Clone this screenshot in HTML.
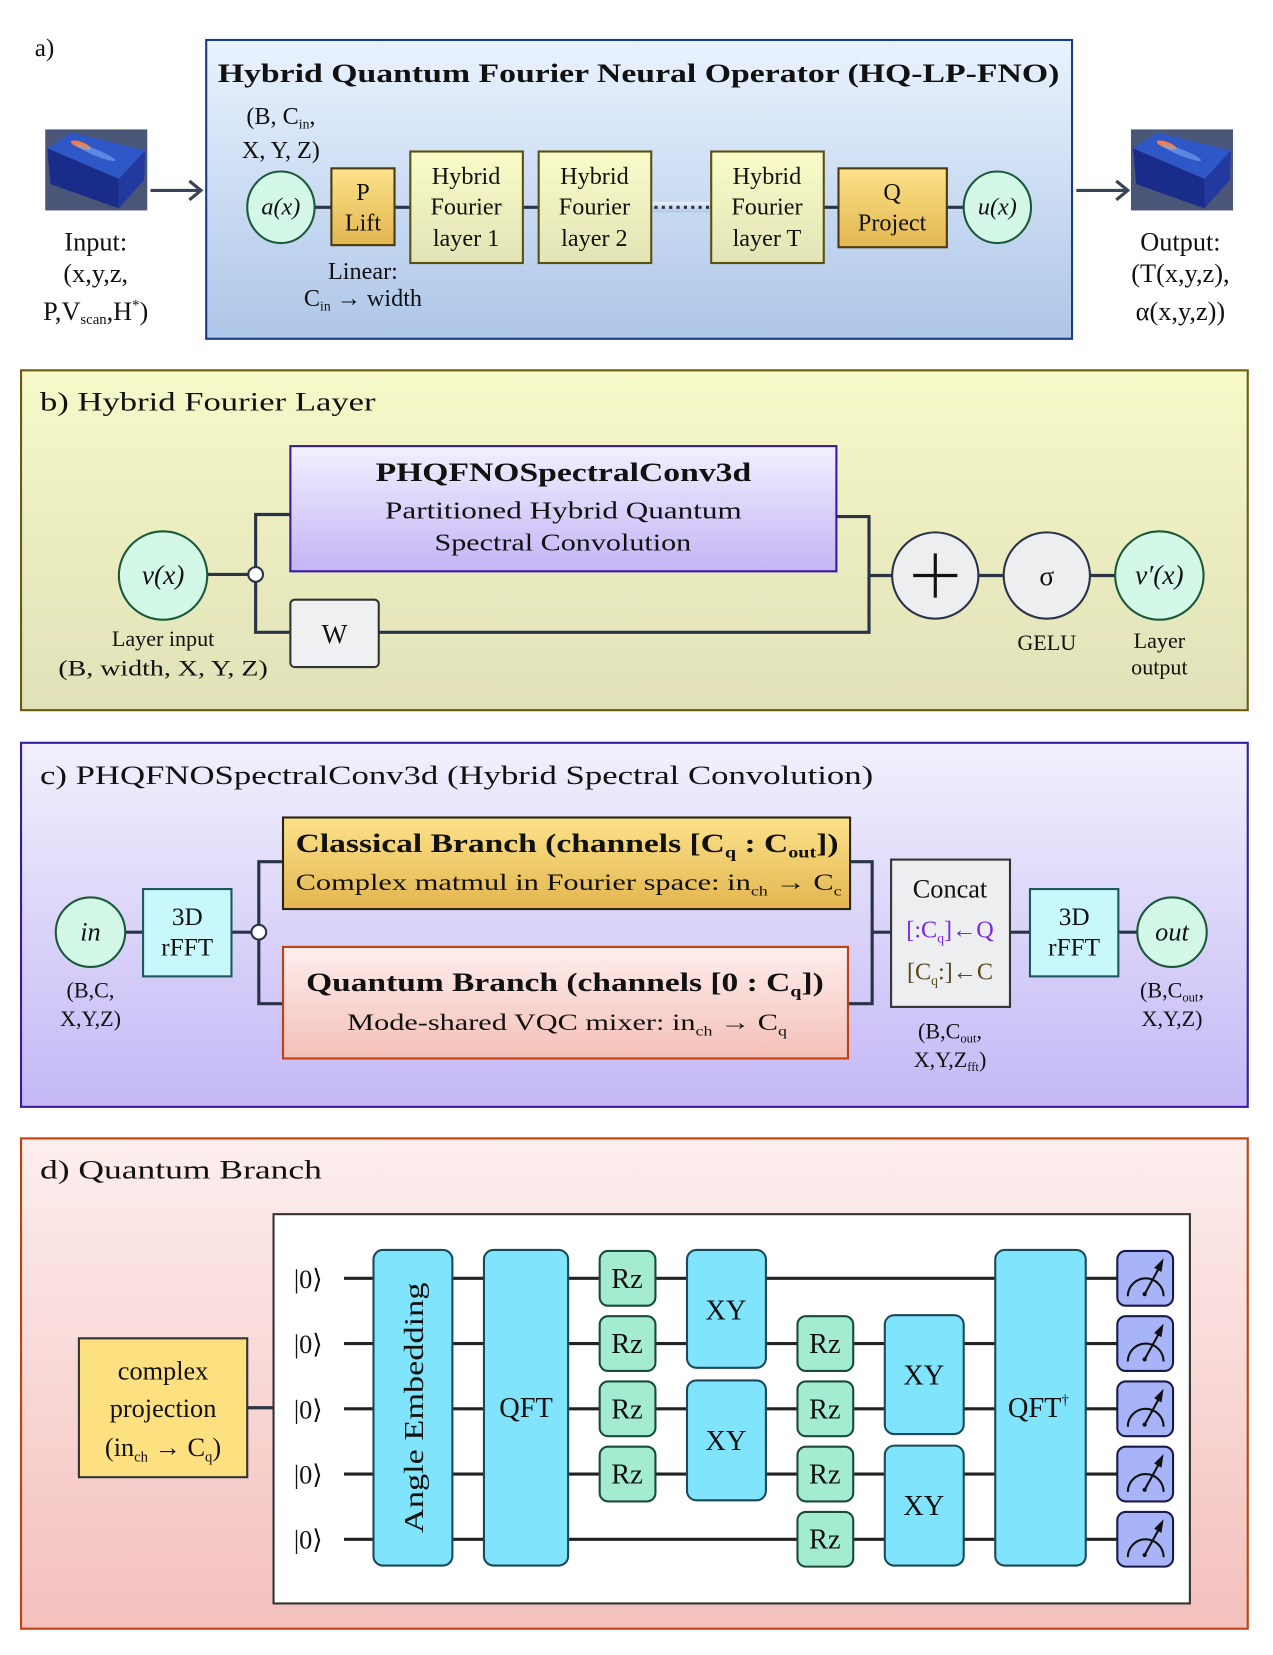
<!DOCTYPE html>
<html><head><meta charset="utf-8"><style>
html,body{margin:0;padding:0;background:#fff}
svg{display:block}
text{font-family:"Liberation Serif",serif;fill:#111}
</style></head><body>
<svg width="1273" height="1655" viewBox="0 0 1210 1573" preserveAspectRatio="none" xmlns="http://www.w3.org/2000/svg">
<defs>
<linearGradient id="gA" x1="0" y1="0" x2="0" y2="1"><stop offset="0" stop-color="#eaf3fe"/><stop offset="1" stop-color="#aec6e8"/></linearGradient>
<linearGradient id="gB" x1="0" y1="0" x2="0" y2="1"><stop offset="0" stop-color="#f6f9c8"/><stop offset="1" stop-color="#e0e1b8"/></linearGradient>
<linearGradient id="gC" x1="0" y1="0" x2="0" y2="1"><stop offset="0" stop-color="#f2f0fc"/><stop offset="1" stop-color="#c4b8f6"/></linearGradient>
<linearGradient id="gD" x1="0" y1="0" x2="0" y2="1"><stop offset="0" stop-color="#fdeeee"/><stop offset="1" stop-color="#f4c0bc"/></linearGradient>
<linearGradient id="gGold" x1="0" y1="0" x2="0" y2="1"><stop offset="0" stop-color="#fde28a"/><stop offset="1" stop-color="#e2b650"/></linearGradient>
<linearGradient id="gY" x1="0" y1="0" x2="0" y2="1"><stop offset="0" stop-color="#f9fbc8"/><stop offset="1" stop-color="#e2e4b6"/></linearGradient>
<linearGradient id="gP" x1="0" y1="0" x2="0" y2="1"><stop offset="0" stop-color="#f2f0fe"/><stop offset="1" stop-color="#c4b4f6"/></linearGradient>
<linearGradient id="gR" x1="0" y1="0" x2="0" y2="1"><stop offset="0" stop-color="#feeeec"/><stop offset="1" stop-color="#f4c0b8"/></linearGradient>
<g id="cube">
<rect x="0" y="0" width="97" height="77" fill="#4a5678"/>
<polygon points="2,18 25,3 95,20 70,47" fill="#2e58c8"/>
<polygon points="2,18 70,47 70,75 5,52" fill="#1a2c8a"/>
<polygon points="70,47 95,20 94,48 70,75" fill="#223aa0"/>
<ellipse cx="34" cy="15" rx="10" ry="3" fill="#ff7a3a" transform="rotate(20 34 15)"/>
<ellipse cx="48" cy="22" rx="20" ry="3" fill="#7aa8f0" opacity="0.6" transform="rotate(22 48 22)"/>
</g>
</defs>

<!-- ===== a ===== -->
<text x="33" y="53" font-size="24">a)</text>
<rect x="196" y="38" width="823" height="284" fill="url(#gA)" stroke="#1a3a8a" stroke-width="2"/>
<text x="207" y="78" font-size="25" font-weight="bold" textLength="800" lengthAdjust="spacingAndGlyphs">Hybrid Quantum Fourier Neural Operator (HQ-LP-FNO)</text>
<use href="#cube" x="43" y="123"/>
<use href="#cube" x="1075" y="123"/>
<g stroke="#3a4458" stroke-width="3" fill="none">
<line x1="143" y1="181" x2="190" y2="181"/><polyline points="180,172 191,181 180,190"/>
<line x1="1023" y1="181" x2="1070" y2="181"/><polyline points="1061,172 1072,181 1061,190"/>
</g>
<g font-size="25" text-anchor="middle">
<text x="91" y="238">Input:</text><text x="91" y="268">(x,y,z,</text>
<text x="91" y="304">P,V<tspan font-size="14" dy="4">scan</tspan><tspan dy="-4">,H</tspan><tspan font-size="14" dy="-10">*</tspan><tspan dy="10">)</tspan></text>
<text x="1122" y="238">Output:</text><text x="1122" y="268">(T(x,y,z),</text><text x="1122" y="304">α(x,y,z))</text>
</g>
<g stroke="#2a3448" stroke-width="3"><line x1="299" y1="197" x2="797" y2="197"/><line x1="900" y1="197" x2="916" y2="197"/></g>
<rect x="620" y="192" width="55" height="10" fill="url(#gA)"/>
<line x1="622" y1="197" x2="675" y2="197" stroke="#2a3448" stroke-width="3" stroke-dasharray="3,4"/>
<g font-size="23" text-anchor="middle">
<text x="267" y="118">(B, C<tspan font-size="13" dy="4">in</tspan><tspan dy="-4">,</tspan></text>
<text x="267" y="150">X, Y, Z)</text>
<ellipse cx="267" cy="197" rx="32" ry="34" fill="#d4f8e8" stroke="#1a5a3a" stroke-width="2"/>
<text x="267" y="204" font-style="italic">a(x)</text>
<rect x="315" y="160" width="60" height="73" fill="url(#gGold)" stroke="#4a3a10" stroke-width="2"/>
<text x="345" y="190">P</text><text x="345" y="219">Lift</text>
<rect x="390" y="144" width="107" height="106" fill="url(#gY)" stroke="#5a5010" stroke-width="2"/>
<text x="443" y="175">Hybrid</text><text x="443" y="204">Fourier</text><text x="443" y="234">layer 1</text>
<rect x="512" y="144" width="107" height="106" fill="url(#gY)" stroke="#5a5010" stroke-width="2"/>
<text x="565" y="175">Hybrid</text><text x="565" y="204">Fourier</text><text x="565" y="234">layer 2</text>
<rect x="676" y="144" width="107" height="106" fill="url(#gY)" stroke="#5a5010" stroke-width="2"/>
<text x="729" y="175">Hybrid</text><text x="729" y="204">Fourier</text><text x="729" y="234">layer T</text>
<rect x="797" y="160" width="103" height="75" fill="url(#gGold)" stroke="#4a3a10" stroke-width="2"/>
<text x="848" y="190">Q</text><text x="848" y="219">Project</text>
<ellipse cx="948" cy="197" rx="32" ry="34" fill="#d4f8e8" stroke="#1a5a3a" stroke-width="2"/>
<text x="948" y="204" font-style="italic">u(x)</text>
<text x="345" y="265">Linear:</text>
<text x="345" y="291">C<tspan font-size="13" dy="4">in</tspan><tspan dy="-4"> → width</tspan></text>
</g>

<!-- ===== b ===== -->
<rect x="20" y="352" width="1166" height="323" fill="url(#gB)" stroke="#6a5a10" stroke-width="2"/>
<text x="38" y="390" font-size="25" textLength="319" lengthAdjust="spacingAndGlyphs">b) Hybrid Fourier Layer</text>
<g stroke="#2a3448" stroke-width="3" fill="none">
<line x1="197" y1="546" x2="243" y2="546"/>
<polyline points="276,489 243,489 243,601 276,601"/>
<polyline points="795,491 826,491 826,601 360,601"/>
<line x1="826" y1="547" x2="848" y2="547"/>
<line x1="930" y1="547" x2="954" y2="547"/>
<line x1="1036" y1="547" x2="1060" y2="547"/>
</g>
<circle cx="243" cy="546" r="7" fill="#fff" stroke="#2a3448" stroke-width="2"/>
<circle cx="155" cy="547" r="42" fill="#d4f8e8" stroke="#1a5a3a" stroke-width="2"/>
<text x="155" y="555" font-size="26" font-style="italic" text-anchor="middle">v(x)</text>
<rect x="276" y="424" width="519" height="119" fill="url(#gP)" stroke="#3a1aa0" stroke-width="2"/>
<text x="357" y="457" font-size="25" font-weight="bold" textLength="357" lengthAdjust="spacingAndGlyphs">PHQFNOSpectralConv3d</text>
<text x="366" y="493" font-size="23" textLength="339" lengthAdjust="spacingAndGlyphs">Partitioned Hybrid Quantum</text>
<text x="413" y="523" font-size="23" textLength="244" lengthAdjust="spacingAndGlyphs">Spectral Convolution</text>
<rect x="276" y="570" width="84" height="64" rx="4" fill="#eef0f2" stroke="#333" stroke-width="2"/>
<text x="318" y="611" font-size="26" text-anchor="middle">W</text>
<circle cx="889" cy="547" r="41" fill="#eceef0" stroke="#2a3448" stroke-width="2"/>
<g stroke="#111" stroke-width="3"><line x1="868" y1="547" x2="910" y2="547"/><line x1="889" y1="526" x2="889" y2="568"/></g>
<circle cx="995" cy="547" r="41" fill="#eceef0" stroke="#2a3448" stroke-width="2"/>
<text x="995" y="556" font-size="26" text-anchor="middle">σ</text>
<circle cx="1102" cy="547" r="42" fill="#d4f8e8" stroke="#1a5a3a" stroke-width="2"/>
<text x="1102" y="555" font-size="26" font-style="italic" text-anchor="middle">v′(x)</text>
<g font-size="21" text-anchor="middle">
<text x="155" y="614">Layer input</text>
<text x="155" y="642" textLength="199" lengthAdjust="spacingAndGlyphs">(B, width, X, Y, Z)</text>
<text x="995" y="618">GELU</text>
<text x="1102" y="616">Layer</text><text x="1102" y="641">output</text>
</g>

<!-- ===== c ===== -->
<rect x="20" y="706" width="1166" height="346" fill="url(#gC)" stroke="#3a1aa0" stroke-width="2"/>
<text x="38" y="745" font-size="25" textLength="792" lengthAdjust="spacingAndGlyphs">c) PHQFNOSpectralConv3d (Hybrid Spectral Convolution)</text>
<g stroke="#2a3448" stroke-width="3" fill="none">
<line x1="119" y1="886" x2="136" y2="886"/>
<line x1="220" y1="886" x2="246" y2="886"/>
<polyline points="269,819 246,819 246,954 269,954"/>
<polyline points="808,819 829,819 829,954 806,954"/>
<line x1="829" y1="886" x2="847" y2="886"/>
<line x1="960" y1="886" x2="979" y2="886"/>
<line x1="1063" y1="886" x2="1081" y2="886"/>
</g>
<circle cx="246" cy="886" r="7" fill="#fff" stroke="#2a3448" stroke-width="2"/>
<circle cx="86" cy="886" r="33" fill="#d4f8e8" stroke="#1a5a3a" stroke-width="2"/>
<text x="86" y="894" font-size="25" font-style="italic" text-anchor="middle">in</text>
<circle cx="1114" cy="886" r="33" fill="#d4f8e8" stroke="#1a5a3a" stroke-width="2"/>
<text x="1114" y="894" font-size="25" font-style="italic" text-anchor="middle">out</text>
<rect x="136" y="845" width="84" height="83" fill="#c8f8fc" stroke="#1a5a5a" stroke-width="2"/>
<text x="178" y="879" font-size="24" text-anchor="middle">3D</text><text x="178" y="908" font-size="24" text-anchor="middle">rFFT</text>
<rect x="979" y="845" width="84" height="83" fill="#c8f8fc" stroke="#1a5a5a" stroke-width="2"/>
<text x="1021" y="879" font-size="24" text-anchor="middle">3D</text><text x="1021" y="908" font-size="24" text-anchor="middle">rFFT</text>
<rect x="269" y="777" width="539" height="87" fill="url(#gGold)" stroke="#2a2410" stroke-width="2"/>
<text x="281" y="810" font-size="25" font-weight="bold" textLength="516" lengthAdjust="spacingAndGlyphs">Classical Branch (channels [C<tspan font-size="15" dy="5">q</tspan><tspan dy="-5"> : C</tspan><tspan font-size="15" dy="5">out</tspan><tspan dy="-5">])</tspan></text>
<text x="281" y="846" font-size="22" textLength="519" lengthAdjust="spacingAndGlyphs">Complex matmul in Fourier space: in<tspan font-size="13" dy="5">ch</tspan><tspan dy="-5"> → C</tspan><tspan font-size="13" dy="5">c</tspan></text>
<rect x="269" y="900" width="537" height="106" fill="url(#gR)" stroke="#c04010" stroke-width="2"/>
<text x="291" y="942" font-size="25" font-weight="bold" textLength="492" lengthAdjust="spacingAndGlyphs">Quantum Branch (channels [0 : C<tspan font-size="15" dy="5">q</tspan><tspan dy="-5">])</tspan></text>
<text x="330" y="979" font-size="22" textLength="418" lengthAdjust="spacingAndGlyphs">Mode-shared VQC mixer: in<tspan font-size="13" dy="5">ch</tspan><tspan dy="-5"> → C</tspan><tspan font-size="13" dy="5">q</tspan></text>
<rect x="847" y="817" width="113" height="140" fill="#eceef0" stroke="#333" stroke-width="2"/>
<text x="903" y="853" font-size="25" text-anchor="middle">Concat</text>
<text x="903" y="891" font-size="23" text-anchor="middle" style="fill:#7a2ae0">[:C<tspan font-size="13" dy="5">q</tspan><tspan dy="-5">]←Q</tspan></text>
<text x="903" y="931" font-size="23" text-anchor="middle" style="fill:#5a4a1a">[C<tspan font-size="13" dy="5">q</tspan><tspan dy="-5">:]←C</tspan></text>
<g font-size="21" text-anchor="middle">
<text x="86" y="948">(B,C,</text><text x="86" y="975">X,Y,Z)</text>
<text x="903" y="987">(B,C<tspan font-size="12" dy="4">out</tspan><tspan dy="-4">,</tspan></text>
<text x="903" y="1014">X,Y,Z<tspan font-size="12" dy="4">fft</tspan><tspan dy="-4">)</tspan></text>
<text x="1114" y="948">(B,C<tspan font-size="12" dy="4">out</tspan><tspan dy="-4">,</tspan></text>
<text x="1114" y="975">X,Y,Z)</text>
</g>

<!-- ===== d ===== -->
<rect x="20" y="1082" width="1166" height="466" fill="url(#gD)" stroke="#c04010" stroke-width="2"/>
<text x="38" y="1120" font-size="25" textLength="268" lengthAdjust="spacingAndGlyphs">d) Quantum Branch</text>
<line x1="235" y1="1338" x2="260" y2="1338" stroke="#2a3448" stroke-width="3"/>
<rect x="75" y="1272" width="160" height="132" fill="#fde080" stroke="#333" stroke-width="2"/>
<g font-size="25" text-anchor="middle">
<text x="155" y="1311">complex</text><text x="155" y="1347">projection</text>
<text x="155" y="1384">(in<tspan font-size="14" dy="5">ch</tspan><tspan dy="-5"> → C</tspan><tspan font-size="14" dy="5">q</tspan><tspan dy="-5">)</tspan></text>
</g>
<rect x="260" y="1154" width="871" height="370" fill="#fff" stroke="#333" stroke-width="2"/>
<g stroke="#222" stroke-width="3">
<line x1="327" y1="1215" x2="1062" y2="1215"/><line x1="327" y1="1277" x2="1062" y2="1277"/>
<line x1="327" y1="1339" x2="1062" y2="1339"/><line x1="327" y1="1401" x2="1062" y2="1401"/>
<line x1="327" y1="1463" x2="1062" y2="1463"/>
</g>
<g font-size="25" text-anchor="middle">
<text x="293" y="1224">|0⟩</text><text x="293" y="1286">|0⟩</text><text x="293" y="1348">|0⟩</text><text x="293" y="1410">|0⟩</text><text x="293" y="1472">|0⟩</text>
</g>
<g fill="#80e4fc" stroke="#1a4a5a" stroke-width="2">
<rect x="355" y="1188" width="75" height="300" rx="9"/>
<rect x="460" y="1188" width="80" height="300" rx="9"/>
<rect x="653" y="1188" width="75" height="112" rx="9"/>
<rect x="653" y="1312" width="75" height="114" rx="9"/>
<rect x="841" y="1250" width="75" height="113" rx="9"/>
<rect x="841" y="1374" width="75" height="114" rx="9"/>
<rect x="946" y="1188" width="86" height="300" rx="9"/>
</g>
<g fill="#a4ecd0" stroke="#1a4a3a" stroke-width="2">
<rect x="570" y="1189" width="53" height="52" rx="8"/><rect x="570" y="1251" width="53" height="52" rx="8"/>
<rect x="570" y="1313" width="53" height="52" rx="8"/><rect x="570" y="1375" width="53" height="52" rx="8"/>
<rect x="758" y="1251" width="53" height="52" rx="8"/><rect x="758" y="1313" width="53" height="52" rx="8"/>
<rect x="758" y="1375" width="53" height="52" rx="8"/><rect x="758" y="1437" width="53" height="52" rx="8"/>
</g>
<g font-size="27" text-anchor="middle">
<text x="596" y="1224">Rz</text><text x="596" y="1286">Rz</text><text x="596" y="1348">Rz</text><text x="596" y="1410">Rz</text>
<text x="784" y="1286">Rz</text><text x="784" y="1348">Rz</text><text x="784" y="1410">Rz</text><text x="784" y="1472">Rz</text>
<text x="690" y="1254">XY</text><text x="690" y="1378">XY</text>
<text x="878" y="1316">XY</text><text x="878" y="1440">XY</text>
<text x="500" y="1347">QFT</text>
<text x="987" y="1347">QFT<tspan font-size="14" dy="-12">†</tspan></text>
<text transform="translate(402 1338) rotate(-90)" x="0" y="0" text-anchor="middle" font-size="26" textLength="238" lengthAdjust="spacingAndGlyphs">Angle Embedding</text>
</g>
<g id="m">
<rect x="1062" y="1189" width="53" height="52" rx="8" fill="#a8b4f8" stroke="#1a1a4a" stroke-width="2"/>
<path d="M1072,1232 A17,17 0 0 1 1106,1232" fill="none" stroke="#111" stroke-width="2"/>
<line x1="1088" y1="1230" x2="1104" y2="1201" stroke="#111" stroke-width="2"/>
<polygon points="1106,1196 1104,1209 1097,1205" fill="#111"/>
<circle cx="1088" cy="1230" r="2" fill="#111"/>
</g>
<use href="#m" y="62"/><use href="#m" y="124"/><use href="#m" y="186"/><use href="#m" y="248"/>
</svg>
</body></html>
